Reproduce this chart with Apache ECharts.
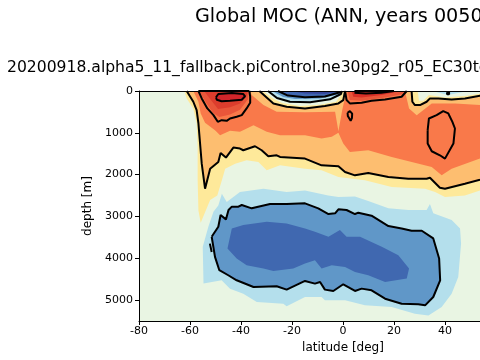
<!DOCTYPE html>
<html>
<head>
<meta charset="utf-8">
<style>
  html, body { margin: 0; padding: 0; background: #fff; overflow: hidden; }
  #main { width: 480px; height: 360px; }
</style>
<script src="https://cdn.jsdelivr.net/npm/echarts@6/dist/echarts.min.js"></script>
</head>
<body>
<div id="main"></div>
<script>
const titleText = 'Global MOC (ANN, years 0050'
const subtitleText = '20200918.alpha5_11_fallback.piControl.ne30pg2_r05_EC30to'
const yTicks = [0, 1000, 2000, 3000, 4000, 5000]

// all outlines are [latitude, depth]
const yellowBand = [[-62.2, 0], [-61.3, 177], [-58.7, 417], [-57.4, 777], [-57, 1337], [-57, 2137], [-56.7, 2857], [-55.8, 3148], [-52.1, 2606], [-49.3, 2497], [-47.5, 2137], [-46.2, 1857], [-42.3, 1737], [-37.8, 1657], [-33.2, 1697], [-29.9, 1897], [-24.7, 1777], [-14.9, 1857], [-8.4, 1897], [-1.8, 2057], [8.6, 2137], [19.1, 2297], [32.2, 2337], [36.1, 2417], [40, 2537], [47.8, 2497], [53.7, 2377], [56, 2330], [56, 0]]

const upperContourLeft = [[-61.3, 0], [-58.7, 257], [-57.4, 457], [-56.7, 777], [-55.4, 1737], [-54.1, 2337], [-52.1, 1857], [-48.9, 1697], [-48, 1481], [-45.9, 1593], [-43, 1353], [-40.4, 1377], [-39.1, 1417], [-34.5, 1321], [-31.9, 1417], [-29.3, 1561], [-26, 1537], [-24.7, 1577], [-14.9, 1617], [-8.4, 1777], [-1.8, 1801], [0.8, 1937], [4.7, 2017], [9.9, 1961], [17.8, 2057], [25.6, 2097], [32.8, 2097], [34.1, 2073], [38, 2313], [40, 2337], [47.8, 2217], [53.7, 2121], [56, 2080]]
const upperContourRight = [[56, 90], [53.7, 113], [47.8, 177], [42.6, 201], [37.4, 177], [34.1, 177], [32.8, 257], [30.2, 337], [28.2, 337], [27.2, 257], [26.9, 0]]
const blueCellContour = [[0.8, 0], [0.1, 217], [-1.8, 297], [-7.1, 361], [-14.9, 417], [-22.1, 377], [-27.3, 297], [-32.8, 0]]

const orangeBand = [[-58.7, 0], [-56.7, 257], [-55.8, 537], [-54.1, 761], [-50.2, 937], [-48.2, 1057], [-44.3, 953], [-40.4, 977], [-35.1, 817], [-29.9, 977], [-24.7, 1057], [-14.9, 1057], [-8.4, 1137], [-4.4, 1097], [-1.8, 1000], [0.1, 1257], [2.7, 1457], [9.9, 1417], [19.1, 1577], [34.8, 1817], [38.7, 2017], [42.6, 1857], [53.7, 1617], [56, 1560], [56, 337], [53.7, 337], [43.9, 297], [34.8, 297], [28.9, 577], [25.9, 417], [24.3, 0], [1.4, 0], [-0.3, 457], [-1.8, 960], [-3.1, 497], [-14.9, 510], [-26, 497], [-31.2, 337], [-35.8, 97], [-36.4, 0]]

const leftRedContour = [[-56.7, 0], [-55.4, 177], [-53.2, 417], [-50.8, 577], [-49.1, 737], [-47.6, 697], [-45.6, 713], [-44.3, 657], [-41.7, 617], [-39.7, 577], [-37.8, 417], [-36.4, 281], [-36.4, 137], [-36.7, 0]]
const leftRedBand = [[-56.5, 0], [-53.5, 297], [-51, 520], [-48.5, 620], [-44.3, 560], [-40.4, 450], [-37.3, 200], [-36.8, 0]]
const leftDeepRedBand = [[-54.5, 0], [-51.5, 237], [-49, 430], [-44.3, 390], [-40.4, 297], [-37.8, 120], [-37.3, 0]]
const leftCoreContour = [[-49.8, 150], [-48.9, 72], [-43.6, 48], [-39.1, 72], [-38.4, 127], [-39.7, 208], [-44.3, 232], [-47.6, 246], [-49.5, 208], [-49.8, 150]]
const leftTopContour = [[-56.7, 0], [-36.7, 0]]

const rightRedContour = [[0.8, 0], [1.4, 217], [2.7, 297], [7.3, 281], [11.2, 233], [16.5, 201], [23, 137], [25, 0]]
const rightRedBand = [[1.8, 0], [2.7, 217], [7.3, 233], [16.5, 153], [23, 77], [24.6, 0]]
const rightDeepRedBand = [[3.4, 0], [4, 137], [7.3, 153], [15.2, 97], [22.4, 0]]
const rightTopContour = [[4.5, 40], [9, 60], [15, 40], [20, 0], [4.5, 0]]
const smallLoop = [[1.8, 520], [2.7, 481], [3.6, 540], [3.5, 650], [3, 713], [2.4, 690], [1.9, 600], [1.8, 520]]
const rightLoop = [[33.2, 937], [33.7, 657], [36.7, 577], [39.3, 481], [41.3, 537], [42.9, 737], [43.9, 897], [43.3, 1257], [40, 1617], [38, 1537], [34.8, 1441], [33.2, 1257], [33.2, 937]]

const paleBlueCell = [[-31.4, 0], [-27.8, 167], [-23.9, 287], [-16.9, 360], [-9, 330], [-2.7, 260], [-0.8, 96], [-0.4, 0]]
const lightBlueCell = [[-29.4, 0], [-25.9, 167], [-20.8, 280], [-14.9, 270], [-9, 251], [-5.1, 215], [-1.2, 120], [-0.8, 0]]
const midBlueCell = [[-27.8, 0], [-23.5, 143], [-18.8, 191], [-9, 179], [-1.2, 72], [-0.4, 0]]
const darkBlueCell = [[-25.5, 0], [-21.6, 96], [-14.9, 131], [-7.1, 120], [-0.8, 24], [-0.4, 0]]
const deepBlueCell = [[-20.8, 0], [-14.9, 60], [-7.1, 72], [-0.8, 0]]
const blueContourInner = [[-29.4, 0], [-25.9, 167], [-20.8, 255], [-12.9, 270], [-5.1, 200], [-0.8, 72], [-0.4, 0]]
const blueContourCore = [[-25.5, 0], [-21.6, 110], [-14.9, 150], [-7.1, 131], [-0.8, 24]]

const palePatch = [[29.3, 0], [29.8, 233], [31.5, 233], [33.7, 97], [40, 153], [47.8, 121], [53.7, 65], [56, 60], [56, 0]]
const bluePatch = [[34.9, 0], [41.2, 97], [49, 0]]
const patchDot = [[40.8, 30], [41.6, 30], [41.6, 80], [40.8, 80], [40.8, 30]]

const lowerLightBlue = [[-48.9, 2737], [-47.5, 2457], [-45.6, 2657], [-40.4, 2417], [-31.2, 2337], [-22.1, 2417], [-14.9, 2377], [-5.8, 2497], [-1.8, 2537], [4.7, 2521], [9.9, 2633], [17.8, 2806], [25.6, 2846], [32.8, 2846], [34.1, 2702], [35.4, 2926], [42.6, 3086], [45.9, 3286], [46.3, 3646], [45.2, 4446], [42.6, 4846], [38.7, 5166], [33.5, 5366], [28.2, 5326], [19.1, 5166], [8.6, 5126], [0.8, 5006], [-7.1, 5006], [-8.4, 4926], [-14.9, 4926], [-22.1, 5150], [-23.4, 5086], [-33.8, 5046], [-39.1, 4846], [-44.3, 4726], [-47.6, 4526], [-54.7, 4606], [-55, 3726], [-52.8, 3246], [-50.8, 2886]]
const lowerContour = [[-51.5, 3486], [-48.9, 3246], [-48, 2966], [-45.9, 3070], [-44.9, 2846], [-43.6, 2766], [-41, 2766], [-39.7, 2726], [-35.8, 2806], [-28.6, 2702], [-22.1, 2702], [-14.9, 2686], [-9.7, 2806], [-5.7, 2942], [-3.1, 2926], [-1.8, 2830], [1.4, 2846], [4.7, 2942], [6, 2910], [11.2, 2982], [17.8, 3230], [23, 3286], [26.9, 3342], [30.9, 3342], [35.4, 3526], [37.7, 4006], [38.1, 4526], [35.4, 4926], [32.2, 5126], [29.5, 5102], [23, 5086], [16.5, 4966], [11.2, 4766], [7.3, 4726], [4.7, 4782], [0.1, 4622], [-3.8, 4782], [-7.1, 4750], [-9, 4566], [-11, 4606], [-14.9, 4542], [-22.1, 4750], [-26, 4670], [-35.1, 4686], [-41.7, 4526], [-45, 4406], [-48.5, 4286], [-50.2, 3966], [-51.5, 3486]]
const lowerDarkBlue = [[-45.3, 3766], [-43.6, 3286], [-39.1, 3206], [-29.9, 3126], [-22.1, 3166], [-14.9, 3286], [-11, 3366], [-5.7, 3486], [-1.2, 3326], [1.4, 3486], [6.7, 3486], [15.2, 3726], [21.7, 3926], [25.9, 4246], [25, 4486], [16.5, 4566], [9.9, 4406], [4.7, 4326], [0.8, 4206], [-4.4, 4166], [-8.4, 4246], [-11, 4046], [-14.9, 4126], [-19.5, 4246], [-27.3, 4302], [-31.2, 4246], [-37.8, 4166], [-41.7, 4006]]
const lowerBlob = [[-52.2, 3650], [-51.6, 3650], [-51.5, 3850], [-52.2, 3870], [-52.2, 3650]]

const chart = echarts.init(document.getElementById('main'))

function filled (points, color) {
  return {
    type: 'custom',
    coordinateSystem: 'cartesian2d',
    clip: true,
    silent: true,
    data: points,
    renderItem (params, api) {
      if (params.dataIndex !== 0) return null
      return {
        type: 'polygon',
        shape: { points: points.map(p => api.coord(p)) },
        style: { fill: color }
      }
    }
  }
}

function contour (points) {
  return {
    type: 'line',
    data: points,
    showSymbol: false,
    silent: true,
    clip: true,
    z: 5,
    lineStyle: { color: '#000', width: 2 }
  }
}

chart.setOption({
  animation: false,
  textStyle: { fontFamily: 'DejaVu Sans' },
  title: [
    { text: titleText, left: 190, top: 3, textStyle: { fontSize: 19.2, fontWeight: 'normal', color: '#000' } },
    { text: subtitleText, left: 2, top: 55, textStyle: { fontSize: 15.6, fontWeight: 'normal', color: '#000' } }
  ],
  grid: {
    left: 139,
    top: 91,
    width: 408,
    height: 230,
    outerBoundsMode: 'none',
    show: true,
    backgroundColor: '#e9f5e3',
    borderWidth: 0
  },
  xAxis: [
    {
      type: 'value',
      min: -80,
      max: 80,
      interval: 20,
      z: 10,
      name: 'latitude [deg]',
      nameLocation: 'middle',
      nameGap: 18,
      nameTextStyle: { fontSize: 12, color: '#000' },
      splitLine: { show: false },
      axisLine: { onZero: false, lineStyle: { color: '#000', width: 1 } },
      axisTick: { length: 4, lineStyle: { color: '#000' } },
      axisLabel: { fontSize: 11, color: '#000', margin: 5 }
    },
    {
      type: 'value',
      position: 'top',
      min: -80,
      max: 80,
      z: 10,
      splitLine: { show: false },
      axisLine: { show: true, onZero: false, lineStyle: { color: '#000', width: 1 } },
      axisTick: { show: false },
      axisLabel: { show: false }
    }
  ],
  yAxis: {
    type: 'value',
    inverse: true,
    min: 0,
    max: 5500,
    interval: 1000,
    z: 10,
    name: 'depth [m]',
    nameLocation: 'middle',
    nameGap: 35,
    nameTextStyle: { fontSize: 12, color: '#000' },
    splitLine: { show: false },
    axisLine: { show: true, onZero: false, lineStyle: { color: '#000', width: 1 } },
    axisTick: { show: true, length: 4, lineStyle: { color: '#000' }, customValues: yTicks },
    axisLabel: { fontSize: 11, color: '#000', margin: 6, customValues: yTicks, formatter: v => String(v) }
  },
  series: [
    filled(yellowBand, '#fee99a'),
    filled(upperContourLeft.concat(upperContourRight, blueCellContour), '#fdbe70'),
    filled(orangeBand, '#f9794a'),
    filled(leftRedBand, '#e9563a'),
    filled(leftDeepRedBand, '#dd3d2d'),
    filled(leftCoreContour, '#d2252a'),
    filled(rightRedBand, '#e9563a'),
    filled(rightDeepRedBand, '#d73027'),
    filled(paleBlueCell, '#e9f5e3'),
    filled(lightBlueCell, '#b4dfec'),
    filled(midBlueCell, '#6097c8'),
    filled(darkBlueCell, '#4068b0'),
    filled(deepBlueCell, '#36479c'),
    filled(palePatch, '#e9f5e3'),
    filled(bluePatch, '#b4dfec'),
    filled(lowerLightBlue, '#b4dfec'),
    filled(lowerContour, '#6097c8'),
    filled(lowerDarkBlue, '#4068b0'),
    contour(upperContourLeft),
    contour(upperContourRight),
    contour(blueCellContour),
    contour(leftRedContour),
    contour(leftCoreContour),
    contour(leftTopContour),
    contour(rightRedContour),
    contour(rightTopContour),
    contour(smallLoop),
    contour(rightLoop),
    contour(blueContourInner),
    contour(blueContourCore),
    contour(patchDot),
    contour(lowerContour),
    contour(lowerBlob)
  ]
})
</script>
</body>
</html>
